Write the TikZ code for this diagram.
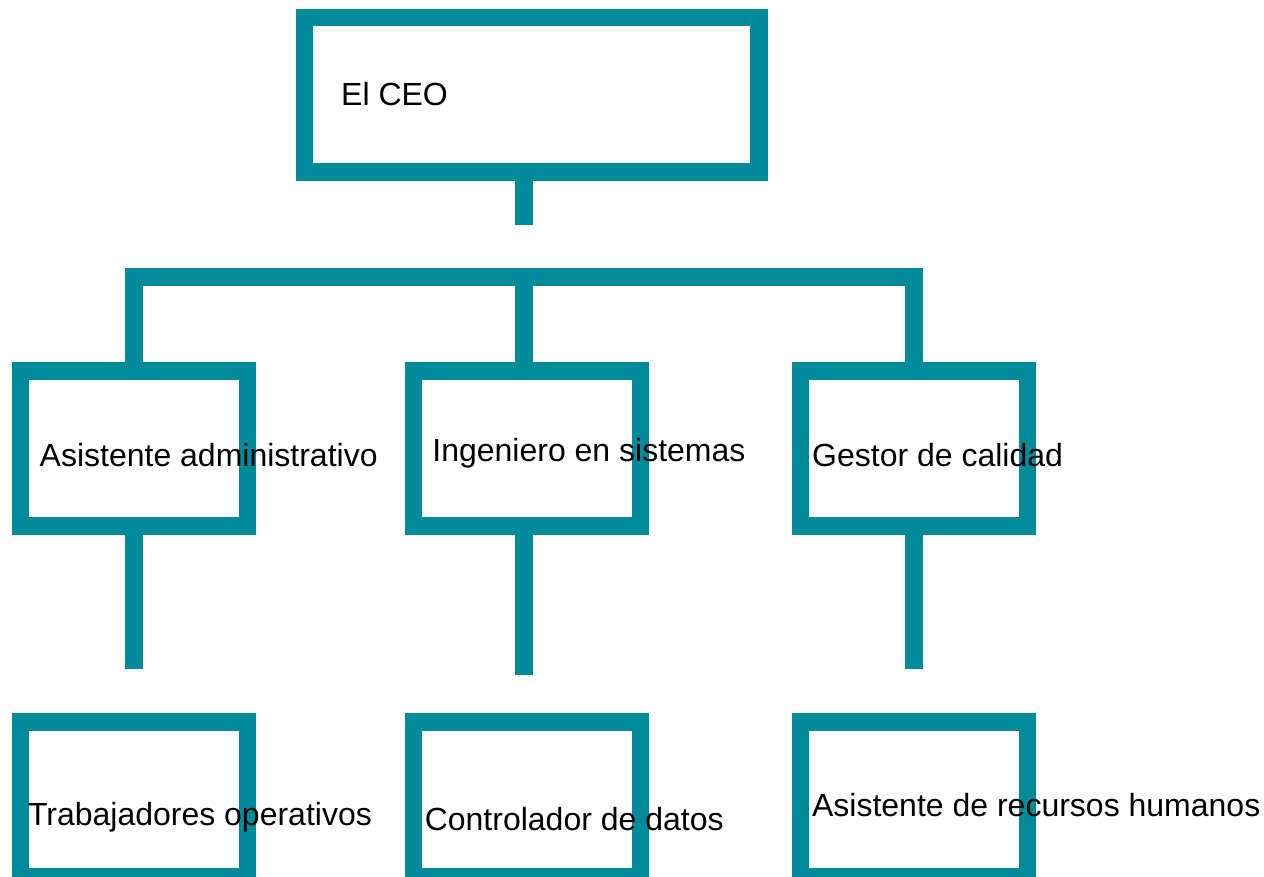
\documentclass[tikz,border=0pt]{standalone}
\usepackage{fontspec}
\setmainfont{Liberation Sans}
\usepackage{xcolor}
\usepackage{tikz}
\usetikzlibrary{positioning}
\definecolor{orgteal}{RGB}{0,139,155}
\tikzstyle{box} = [rectangle, minimum width=113.5pt, minimum height=77.25pt, draw=orgteal, line width=8.75pt, inner sep=0pt, outer sep=0pt]
\tikzstyle{boxtext} = [anchor=base west, inner sep=0pt, font=\fontsize{16}{19}\selectfont]
\tikzstyle{link} = [draw=orgteal, line width=8.75pt]

\begin{document}
\begin{tikzpicture}[x=0.5pt, y=-0.5pt]
		\useasboundingbox (0,0) rectangle (1264,877);
		\node (CEO)[box, minimum width=227.25pt] at (531.75,94.75) {};
		\node (Asistente)[box] at (133.9,448.5) {};
		\node (Ingeniero)[box] at (527,448.5) {};
		\node (Gestor)[box] at (913.9,448.5) {};
		\node (Trabajadores)[box, below = 98.15pt of Asistente] {};
		\node (Controlador)[box, below = 98.15pt of Ingeniero] {};
		\node (Recursos)[box, below = 98.15pt of Gestor] {};
		\coordinate (stem) at (523.8,225.3);
		\coordinate (bar) at (0,277);
		\coordinate (Asistente end) at (133.9,669.3);
		\coordinate (Ingeniero end) at (523.8,675);
		\coordinate (Gestor end) at (913.9,669.3);
		\draw [link] (CEO.south -| stem) -- (stem);
		\draw [link] (Asistente.north) -- (Asistente.north |- bar) -- (Gestor.north |- bar) -- (Gestor.north);
		\draw [link] (stem |- bar) -- (stem |- Ingeniero.north);
		\draw [link] (Asistente.south) -- (Asistente end);
		\draw [link] (Ingeniero end |- Ingeniero.south) -- (Ingeniero end);
		\draw [link] (Gestor.south) -- (Gestor end);
		\node (CEO text)[boxtext] at (340.8,106) {El CEO};
		\node (Asistente text)[boxtext] at (39.3,466) {Asistente administrativo};
		\node (Ingeniero text)[boxtext] at (432,461.7) {Ingeniero en sistemas};
		\node (Gestor text)[boxtext] at (811.8,466) {Gestor de calidad};
		\node (Trabajadores text)[boxtext] at (27.6,825.7) {Trabajadores operativos};
		\node (Controlador text)[boxtext] at (424.4,830) {Controlador de datos};
		\node (Recursos text)[boxtext] at (811.7,816.7) {Asistente de recursos humanos};
	\end{tikzpicture}
\end{document}
